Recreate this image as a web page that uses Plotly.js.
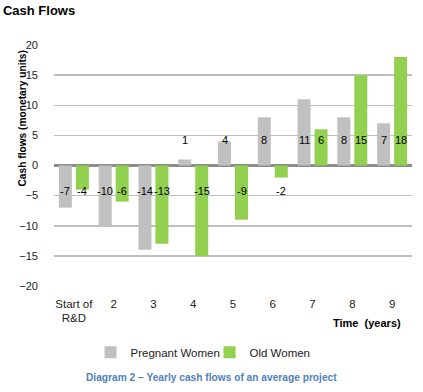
<!DOCTYPE html>
<html>
<head>
<meta charset="utf-8">
<script src="https://cdn.plot.ly/plotly-3.0.1.min.js"></script>
<style>
html,body{margin:0;padding:0;background:#fff;}
#chart{width:423px;height:392px;}
</style>
</head>
<body>
<div id="chart"></div>
<script>
const categories = ["Start of<br>R&D", "2", "3", "4", "5", "6", "7", "8", "9"];
const pregnantWomen = [-7, -10, -14, 1, 4, 8, 11, 8, 7];
const oldWomen = [-4, -6, -13, -15, -9, -2, 6, 15, 18];
const seriesNames = ["Pregnant Women", "Old Women"];
const yTicks = [-20, -15, -10, -5, 0, 5, 10, 15, 20];

const FONT = "Liberation Sans, Arial, sans-serif";
const labelY = v => (v >= 0 ? 4.3 : -4.3);

const annotations = [];
categories.forEach((c, i) => {
  annotations.push({x: i, y: labelY(pregnantWomen[i]), text: String(pregnantWomen[i]),
    xref: 'x', yref: 'y', showarrow: false, xshift: -8.5, font: {family: FONT, size: 11, color: '#000'}});
  annotations.push({x: i, y: labelY(oldWomen[i]), text: String(oldWomen[i]),
    xref: 'x', yref: 'y', showarrow: false, xshift: 8.5, font: {family: FONT, size: 11, color: '#000'}});
});
annotations.push({text: "<b>Time  (years)</b>", xref: 'paper', yref: 'paper', x: 1, y: 0,
  xanchor: 'right', yanchor: 'top', yshift: -29, xshift: -9, showarrow: false, font: {family: FONT, size: 11, color: '#000'}});
annotations.push({text: "<b>Diagram 2 – Yearly cash flows of an average project</b>", xref: 'paper', yref: 'paper',
  x: 0.44, y: 0, xanchor: 'center', yanchor: 'top', yshift: -84, showarrow: false,
  font: {family: FONT, size: 10.2, color: '#4f81bd'}});
annotations.push({text: "<b>Cash flows (monetary units)</b>", xref: 'paper', yref: 'paper',
  x: 0, y: 0.5, xanchor: 'center', yanchor: 'middle', xshift: -32, yshift: 47, textangle: -90, showarrow: false,
  font: {family: FONT, size: 10.2, color: '#000'}});

const data = [
  {type: 'bar', name: seriesNames[0], x: categories, y: pregnantWomen, marker: {color: '#c0c0c0'}},
  {type: 'bar', name: seriesNames[1], x: categories, y: oldWomen, marker: {color: '#92d050'}}
];

const layout = {
  width: 423, height: 392,
  margin: {l: 54, r: 11, t: 45, b: 106},
  paper_bgcolor: '#fff', plot_bgcolor: '#fff',
  barmode: 'group', bargap: 0.146, bargroupgap: 0.235,
  title: {text: "<b>Cash Flows</b>", x: 0.007, xanchor: 'left', y: 0.985, yanchor: 'top',
    font: {family: FONT, size: 13, color: '#000'}},
  font: {family: FONT, size: 12, color: '#222'},
  xaxis: {type: 'category', showgrid: false, showline: false, ticks: '', ticklen: 0,
    ticklabelstandoff: 9,
    tickfont: {family: FONT, size: 11.5, color: '#222'}, fixedrange: true},
  yaxis: {range: [-20, 20], tickvals: yTicks, showgrid: true, gridcolor: '#bfbfbf', gridwidth: 1.5,
    zeroline: true, zerolinecolor: '#8c8c8c', zerolinewidth: 2.5, showline: false, ticks: '',
    ticklabelstandoff: 15,
    tickfont: {family: FONT, size: 11, color: '#222'}},
  legend: {orientation: 'h', x: 0.102, xanchor: 'left', y: -0.215, yanchor: 'top',
    font: {family: FONT, size: 11.5, color: '#222'}, traceorder: 'normal', entrywidth: 74, entrywidthmode: 'pixels'},
  annotations: annotations,
  showlegend: true
};

Plotly.newPlot('chart', data, layout, {displayModeBar: false, staticPlot: true});
</script>
</body>
</html>
